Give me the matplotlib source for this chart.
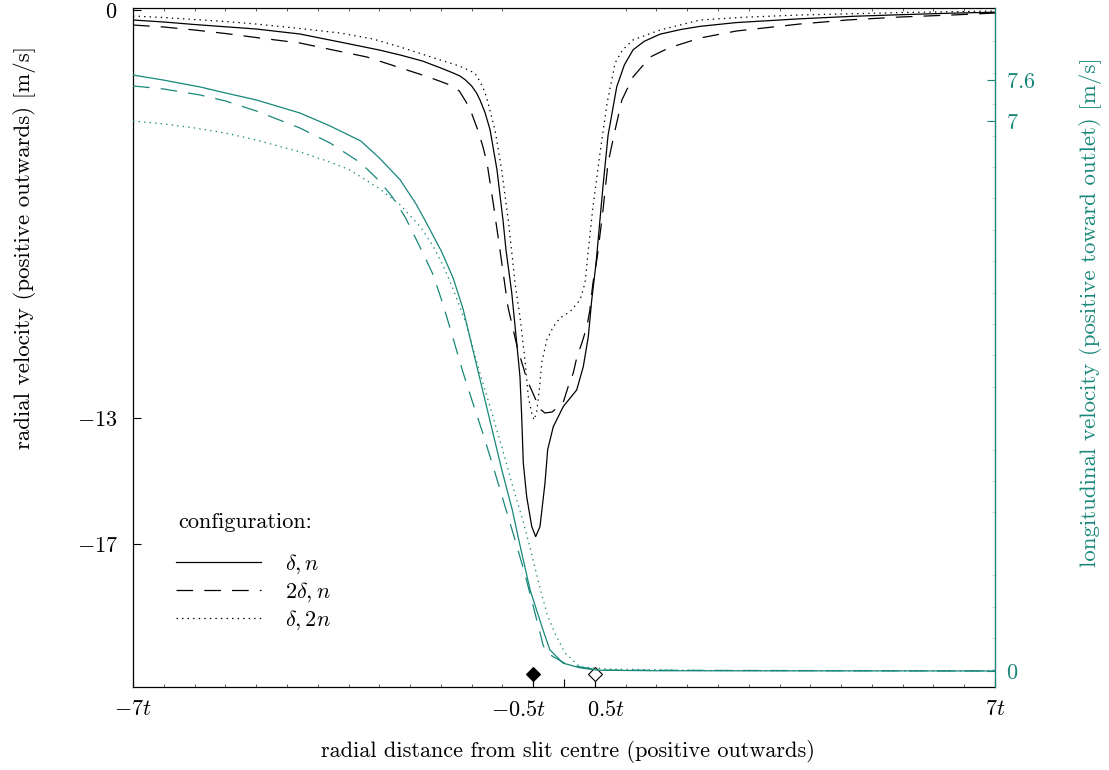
import matplotlib
matplotlib.use("Agg")
import matplotlib.pyplot as plt
from matplotlib.ticker import FixedLocator, FixedFormatter, MultipleLocator
from matplotlib.lines import Line2D
from matplotlib.transforms import ScaledTranslation

# ── Config ─────────────────────────────────────────────────────────────────────
TEAL = "#17877a"

plt.rcParams.update({
    "font.family": "serif",
    "font.serif": ["cmr10", "DejaVu Serif"],
    "mathtext.fontset": "cm",
    "axes.unicode_minus": False,
    "font.size": 16,
    "lines.scale_dashes": False,
})

# ── Data (x in units of t) ─────────────────────────────────────────────────────
# radial velocity [m/s], configuration delta, n
rad_solid_x = [-7, -6.5, -6, -5, -4.29, -3.64, -3.0, -2.66, -2.3, -2.0, -1.8, -1.69, -1.6,
               -1.5, -1.42, -1.364, -1.28, -1.20, -1.088, -0.991, -0.942, -0.849, -0.768,
               -0.715, -0.687, -0.661, -0.606, -0.524, -0.460, -0.390, -0.309, -0.265,
               -0.174, -0.012, 0.206, 0.313, 0.395, 0.450, 0.520, 0.634, 0.715, 0.856,
               0.98, 1.121, 1.3, 1.559, 1.9, 2.21, 2.8, 3.83, 4.7, 5.46, 6.3, 7.0]
rad_solid_v = [-0.318, -0.382, -0.462, -0.605, -0.764, -1.019, -1.274, -1.433, -1.624,
               -1.847, -2.006, -2.102, -2.229, -2.420, -2.643, -2.866, -3.280, -3.822,
               -5.096, -6.688, -7.643, -9.0, -10.6, -11.68, -12.95, -14.43, -15.5, -16.45,
               -16.77, -16.45, -15.07, -14.0, -13.27, -12.63, -12.1, -11.36, -10.4, -9.24,
               -8.07, -5.6, -4.0, -2.45, -1.75, -1.27, -1.0, -0.77, -0.62, -0.52, -0.40,
               -0.28, -0.2, -0.15, -0.1, -0.07]

# radial velocity [m/s], configuration 2delta, n
rad_dash_x = [-7, -6.5, -6, -5.5, -5, -4.29, -3.75, -3.2, -2.55, -2.2, -1.85, -1.7, -1.58,
              -1.49, -1.40, -1.32, -1.25, -1.15, -1.04, -0.91, -0.76, -0.60, -0.47, -0.41,
              -0.31, -0.195, -0.016, 0.066, 0.15, 0.21, 0.29, 0.37, 0.42, 0.47, 0.54, 0.63,
              0.715, 0.83, 0.94, 1.12, 1.40, 1.7, 2.21, 2.8, 3.83, 4.6, 5.46, 6.3, 7.0]
rad_dash_v = [-0.478, -0.541, -0.637, -0.748, -0.876, -1.051, -1.274, -1.497, -1.911,
              -2.134, -2.389, -2.580, -2.962, -3.344, -3.822, -4.331, -4.873, -6.146,
              -7.643, -9.459, -10.732, -11.783, -12.357, -12.675, -12.834, -12.803,
              -12.516, -12.006, -11.561, -11.051, -10.605, -10.096, -9.554, -8.694,
              -7.866, -6.433, -4.873, -3.822, -2.866, -2.134, -1.497, -1.210, -0.892,
              -0.669, -0.446, -0.318, -0.223, -0.159, -0.096]

# radial velocity [m/s], configuration delta, 2n
rad_dot_x = [-7, -6.5, -6, -5.5, -5, -4.29, -3.64, -3.1, -2.66, -2.01, -1.7, -1.45, -1.38,
             -1.32, -1.26, -1.12, -1.012, -0.905, -0.823, -0.796, -0.715, -0.634, -0.580,
             -0.525, -0.487, -0.444, -0.401, -0.362, -0.281, -0.174, -0.065, 0.098, 0.260,
             0.341, 0.368, 0.395, 0.47, 0.585, 0.70, 0.83, 0.95, 1.12, 1.56, 2.21, 3.0,
             3.83, 5.5, 7.0]
rad_dot_v = [-0.191, -0.239, -0.303, -0.366, -0.446, -0.589, -0.732, -0.924, -1.178,
             -1.592, -1.783, -2.006, -2.229, -2.452, -2.761, -3.822, -5.096, -6.688,
             -8.175, -8.694, -9.768, -11.146, -12.315, -12.834, -13.057, -12.793, -12.102,
             -11.242, -10.510, -10.086, -9.809, -9.608, -9.236, -8.694, -8.185, -7.643,
             -6.274, -4.554, -2.962, -1.688, -1.274, -0.955, -0.637, -0.318, -0.223,
             -0.159, -0.080, -0.032]

# longitudinal velocity [m/s], configuration delta, n
lon_solid_x = [-7, -6.5, -5.91, -5.5, -5, -4.29, -3.8, -3.3, -3.0, -2.66, -2.4, -2.26,
               -1.99, -1.80, -1.64, -1.49, -1.33, -1.17, -1.01, -0.84, -0.715, -0.55,
               -0.34, -0.23, -0.016, 0.26, 0.54, 1.5, 7.0]
lon_solid_w = [7.585, 7.52, 7.433, 7.357, 7.268, 7.102, 6.937, 6.745, 6.53, 6.25, 5.94,
               5.74, 5.34, 5.0, 4.61, 4.12, 3.60, 3.08, 2.56, 2.05, 1.6, 1.03, 0.52, 0.27,
               0.10, 0.04, 0.01, 0.003, 0.0]

# longitudinal velocity [m/s], configuration 2delta, n
lon_dash_x = [-7, -6.5, -5.91, -5.5, -5, -4.29, -3.8, -3.3, -3.0, -2.8, -2.58, -2.26, -2.13,
              -1.97, -1.80, -1.64, -1.48, -1.32, -1.15, -0.99, -0.83, -0.64, -0.40, -0.34,
              -0.28, 0.05, 0.585, 7.0]
lon_dash_w = [7.446, 7.407, 7.331, 7.255, 7.128, 6.911, 6.720, 6.466, 6.237, 6.046, 5.778,
              5.269, 5.05, 4.68, 4.23, 3.80, 3.41, 3.03, 2.60, 2.18, 1.76, 1.25, 0.52,
              0.33, 0.23, 0.08, 0.01, 0.0]

# longitudinal velocity [m/s], configuration delta, 2n
lon_dot_x = [-7, -6.5, -6, -5.5, -5, -4.29, -3.8, -3.48, -2.99, -2.66, -2.33, -2.12, -1.97,
             -1.82, -1.58, -1.40, -1.20, -1.01, -0.83, -0.67, -0.55, -0.39, -0.27, -0.15,
             0.016, 0.26, 0.70, 2.21, 7.0]
lon_dot_w = [7.000, 6.962, 6.911, 6.847, 6.758, 6.606, 6.478, 6.377, 6.135, 5.931, 5.651,
             5.40, 5.17, 4.90, 4.40, 3.882, 3.360, 2.851, 2.342, 1.922, 1.565, 1.056,
             0.713, 0.484, 0.229, 0.051, 0.025, 0.006, 0.0]

x_ticks = [-7, -0.5, 0, 0.5, 7]
x_tick_labels = ["$-7t$", "$-0.5t$", "", "$0.5t$", "$7t$"]
left_ticks = [0, -13, -17]
left_tick_labels = ["$0$", "$-13$", "$-17$"]
right_ticks = [0, 7, 7.52]
right_tick_labels = ["$0$", "$7$", "$7.6$"]
marker_x = [-0.5, 0.5]

config_title = "configuration:"
config_labels = [r"$\delta, n$", r"$2\delta, n$", r"$\delta, 2n$"]

# ── Figure ─────────────────────────────────────────────────────────────────────
W, H = 1109, 770
fig = plt.figure(figsize=(W / 100, H / 100), dpi=100)
ax = fig.add_axes([133 / W, (H - 687) / H, (995 - 133) / W, (687 - 8) / H])
ax2 = ax.twinx()

SOLID = "-"
DASH = (0, (12, 8))
DOT = (0, (1, 3))
LW = 0.9

ax.plot(rad_solid_x, rad_solid_v, color="black", lw=LW, ls=SOLID)
ax.plot(rad_dash_x, rad_dash_v, color="black", lw=LW, ls=DASH)
ax.plot(rad_dot_x, rad_dot_v, color="black", lw=LW, ls=DOT)

ax2.plot(lon_solid_x, lon_solid_w, color=TEAL, lw=LW, ls=SOLID)
ax2.plot(lon_dash_x, lon_dash_w, color=TEAL, lw=LW, ls=DASH)
ax2.plot(lon_dot_x, lon_dot_w, color=TEAL, lw=LW, ls=DOT)

# left axis
ax.set_xlim(-7, 7)
ax.set_ylim(-21.56, 0.064)
ax.xaxis.set_major_locator(FixedLocator(x_ticks))
ax.xaxis.set_major_formatter(FixedFormatter(x_tick_labels))
ax.xaxis.set_minor_locator(MultipleLocator(0.5))
ax.yaxis.set_major_locator(FixedLocator(left_ticks))
ax.yaxis.set_major_formatter(FixedFormatter(left_tick_labels))
ax.yaxis.set_minor_locator(MultipleLocator(1))
ax.tick_params(axis="x", which="major", direction="in", length=6, width=0.8,
               top=False, pad=9, labelsize=16)
ax.tick_params(axis="x", which="minor", direction="in", length=2.2, width=0.6,
               top=True, bottom=True, color="#444444")
ax.tick_params(axis="y", which="major", direction="in", length=6, width=0.8,
               right=False, pad=11, labelsize=16)
ax.tick_params(axis="y", which="minor", direction="in", length=2, width=0.5,
               left=False, right=True, color="#a9d2cc")
for s in ["left", "bottom", "top"]:
    ax.spines[s].set_linewidth(0.9)

# the two inner labels sit pushed apart, as in the original
ticks = ax.xaxis.get_major_ticks()
for i, dx in [(1, -0.15), (3, 0.11)]:
    lab = ticks[i].label1
    lab.set_transform(lab.get_transform() + ScaledTranslation(dx, 0, fig.dpi_scale_trans))

# right axis
ax2.set_ylim(-0.204, 8.438)
ax2.yaxis.set_major_locator(FixedLocator(right_ticks))
ax2.yaxis.set_major_formatter(FixedFormatter(right_tick_labels))
ax2.tick_params(axis="y", which="major", direction="in", length=6, width=0.8,
                color=TEAL, labelcolor=TEAL, pad=8, labelsize=16)
ax2.spines["right"].set_color(TEAL)
ax2.spines["right"].set_linewidth(0.9)
for s in ["left", "bottom", "top"]:
    ax2.spines[s].set_visible(False)

# markers at the slit edges
trans = ax.get_xaxis_transform()
for xm, face in zip(marker_x, ["black", "white"]):
    ax.plot([xm, xm], [0, 0.019], color="black", lw=0.8, transform=trans, clip_on=False)
    ax.plot([xm], [0.019], marker="D", ms=7, mfc=face, mec="black", mew=0.8,
            transform=trans, clip_on=False, zorder=5)

# labels
ax.set_xlabel("radial distance from slit centre (positive outwards)", fontsize=16)
ax.xaxis.set_label_coords(0.505, -0.078)
ax.set_ylabel("radial velocity (positive outwards) [m/s]", fontsize=16.5)
ax.yaxis.set_label_coords(-0.113, 0.647)
ax2.set_ylabel("longitudinal velocity (positive toward outlet) [m/s]", fontsize=16.5,
               color=TEAL, rotation=90)
ax2.yaxis.set_label_coords(1.0975, 0.552)

# legend
ax2.text(0.052, 0.242, config_title, transform=ax.transAxes, fontsize=16,
         ha="left", va="center")
handles = [Line2D([], [], color="black", lw=LW, ls=SOLID),
           Line2D([], [], color="black", lw=LW, ls=DASH),
           Line2D([], [], color="black", lw=LW, ls=DOT)]
ax2.legend(handles, config_labels, loc="upper left", bbox_to_anchor=(0.05, 0.198),
           frameon=False, fontsize=16, handlelength=3.8, handletextpad=1.1,
           labelspacing=0.19, borderpad=0, borderaxespad=0)

fig.savefig("out.png", dpi=100)
